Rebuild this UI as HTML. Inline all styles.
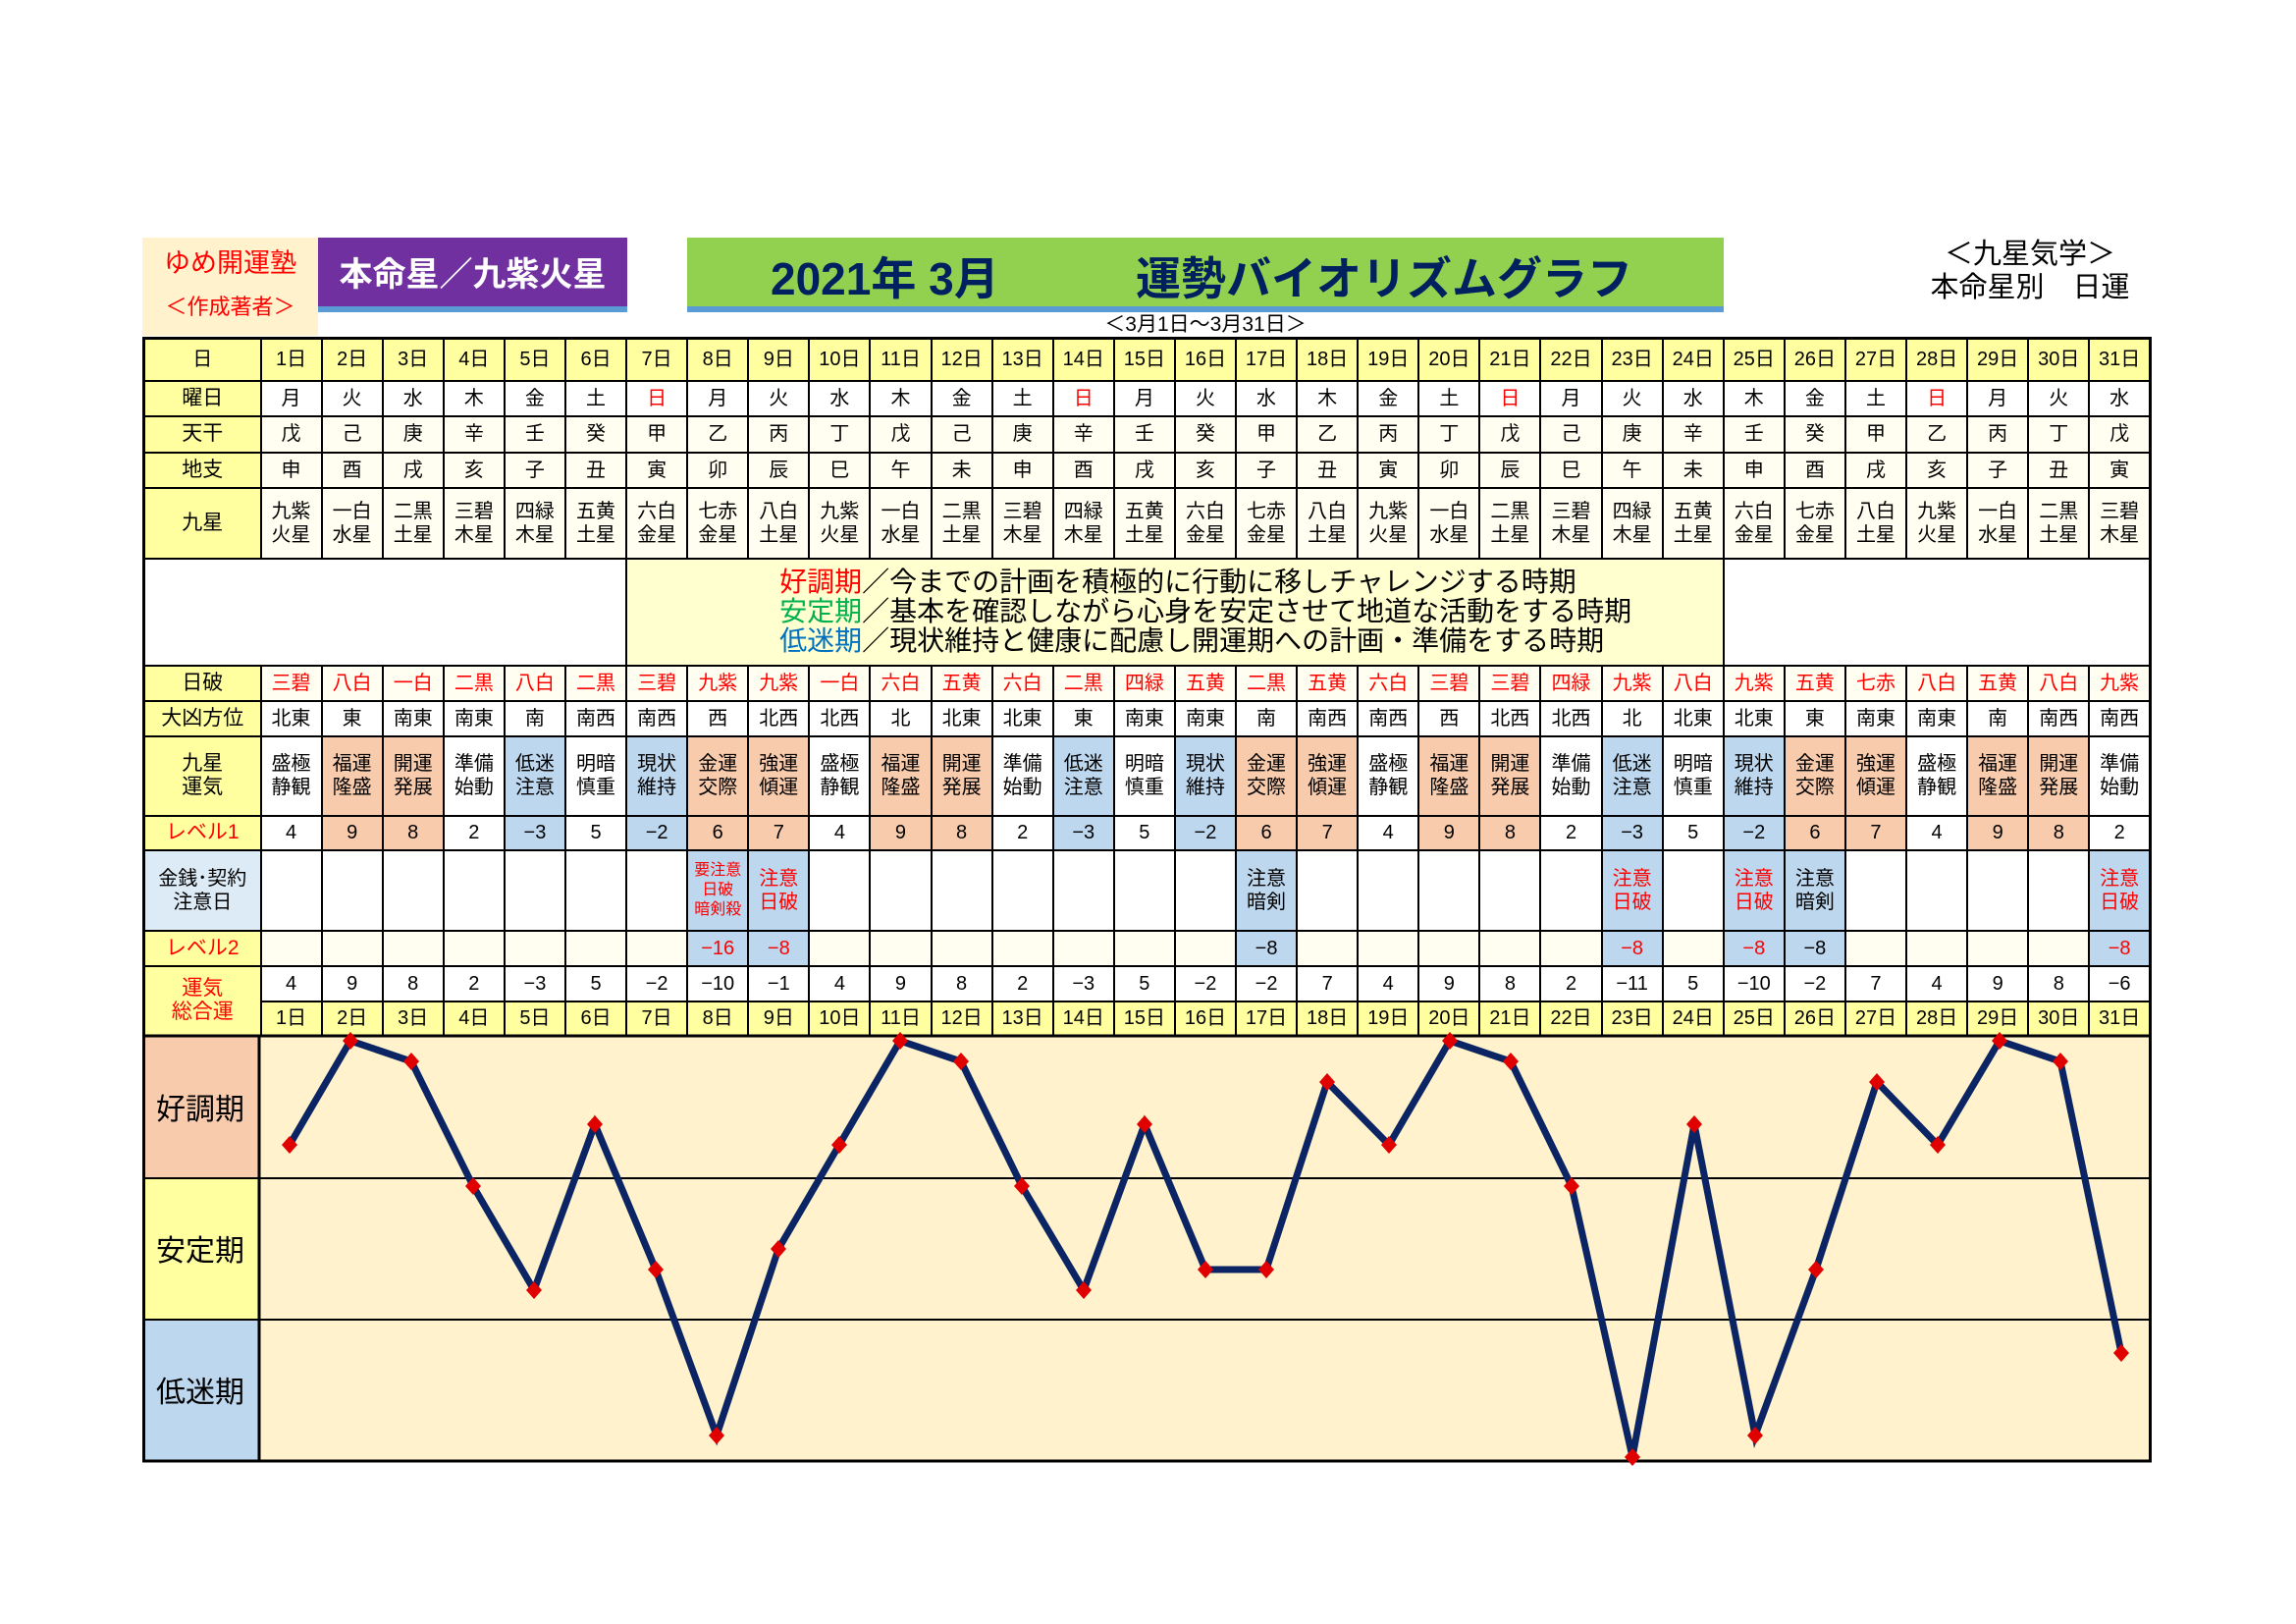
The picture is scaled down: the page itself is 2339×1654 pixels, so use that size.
<!DOCTYPE html>
<html><head><meta charset="utf-8">
<style>
*{margin:0;padding:0;box-sizing:border-box}
body{width:2339px;height:1654px;background:#fff;position:relative;overflow:hidden;font-family:"Liberation Sans","Noto Sans CJK JP",sans-serif;color:#000}
.a{position:absolute}
table{position:absolute;left:145px;top:343px;width:2047px;border-collapse:collapse;table-layout:fixed;border:3px solid #000}
td{border:2px solid #000;text-align:center;vertical-align:middle;font-size:20px;line-height:24px;background:#fffef0;padding:0;overflow:hidden;white-space:nowrap}
td.l{background:#ffffa0;font-size:21px}
tr.y td{background:#ffffa0}
td.w{background:#fff}
td.p{background:#f8cbad}
td.b{background:#bdd7ee}
.r{color:#f00}
td.lr{color:#f00}
</style></head><body>
<div class="a" style="left:145px;top:242px;width:179px;height:100px;background:#fff2cc"></div>
<div class="a" style="left:145px;top:246px;width:179px;text-align:center;font-size:27px;color:#f00">ゆめ開運塾</div>
<div class="a" style="left:145px;top:295px;width:179px;text-align:center;font-size:22px;color:#f00">＜作成著者＞</div>
<div class="a" style="left:324px;top:242px;width:315px;height:70px;background:#7030a0"></div>
<div class="a" style="left:324px;top:312px;width:315px;height:6px;background:#5b9bd5"></div>
<div class="a" style="left:324px;top:252px;width:315px;text-align:center;font-size:34px;font-weight:bold;color:#fff">本命星／九紫火星</div>
<div class="a" style="left:700px;top:242px;width:1056px;height:70px;background:#92d050"></div>
<div class="a" style="left:700px;top:312px;width:1056px;height:6px;background:#5b9bd5"></div>
<div class="a" style="left:785px;top:248px;font-size:46px;font-weight:bold;color:#002060;white-space:nowrap">2021年 3月</div>
<div class="a" style="left:1157px;top:248px;font-size:46px;font-weight:bold;color:#002060;white-space:nowrap">運勢バイオリズムグラフ</div>
<div class="a" style="left:700px;top:314px;width:1056px;text-align:center;font-size:21px">＜3月1日～3月31日＞</div>
<div class="a" style="left:1888px;top:242px;width:360px;text-align:center;font-size:29px;line-height:34px">＜九星気学＞<br>本命星別　日運</div>

<table>
<colgroup><col style="width:119px"><col span="31"></colgroup>
<tr class="y" style="height:43px"><td>日</td><td>1日</td><td>2日</td><td>3日</td><td>4日</td><td>5日</td><td>6日</td><td>7日</td><td>8日</td><td>9日</td><td>10日</td><td>11日</td><td>12日</td><td>13日</td><td>14日</td><td>15日</td><td>16日</td><td>17日</td><td>18日</td><td>19日</td><td>20日</td><td>21日</td><td>22日</td><td>23日</td><td>24日</td><td>25日</td><td>26日</td><td>27日</td><td>28日</td><td>29日</td><td>30日</td><td>31日</td></tr>
<tr style="height:36px"><td class="l">曜日</td><td class="w">月</td><td class="w">火</td><td class="w">水</td><td class="w">木</td><td class="w">金</td><td class="w">土</td><td class="w r">日</td><td class="w">月</td><td class="w">火</td><td class="w">水</td><td class="w">木</td><td class="w">金</td><td class="w">土</td><td class="w r">日</td><td class="w">月</td><td class="w">火</td><td class="w">水</td><td class="w">木</td><td class="w">金</td><td class="w">土</td><td class="w r">日</td><td class="w">月</td><td class="w">火</td><td class="w">水</td><td class="w">木</td><td class="w">金</td><td class="w">土</td><td class="w r">日</td><td class="w">月</td><td class="w">火</td><td class="w">水</td></tr>
<tr style="height:37px"><td class="l">天干</td><td>戊</td><td>己</td><td>庚</td><td>辛</td><td>壬</td><td>癸</td><td>甲</td><td>乙</td><td>丙</td><td>丁</td><td>戊</td><td>己</td><td>庚</td><td>辛</td><td>壬</td><td>癸</td><td>甲</td><td>乙</td><td>丙</td><td>丁</td><td>戊</td><td>己</td><td>庚</td><td>辛</td><td>壬</td><td>癸</td><td>甲</td><td>乙</td><td>丙</td><td>丁</td><td>戊</td></tr>
<tr style="height:36px"><td class="l">地支</td><td>申</td><td>酉</td><td>戌</td><td>亥</td><td>子</td><td>丑</td><td>寅</td><td>卯</td><td>辰</td><td>巳</td><td>午</td><td>未</td><td>申</td><td>酉</td><td>戌</td><td>亥</td><td>子</td><td>丑</td><td>寅</td><td>卯</td><td>辰</td><td>巳</td><td>午</td><td>未</td><td>申</td><td>酉</td><td>戌</td><td>亥</td><td>子</td><td>丑</td><td>寅</td></tr>
<tr style="height:72px"><td class="l">九星</td><td>九紫<br>火星</td><td>一白<br>水星</td><td>二黒<br>土星</td><td>三碧<br>木星</td><td>四緑<br>木星</td><td>五黄<br>土星</td><td>六白<br>金星</td><td>七赤<br>金星</td><td>八白<br>土星</td><td>九紫<br>火星</td><td>一白<br>水星</td><td>二黒<br>土星</td><td>三碧<br>木星</td><td>四緑<br>木星</td><td>五黄<br>土星</td><td>六白<br>金星</td><td>七赤<br>金星</td><td>八白<br>土星</td><td>九紫<br>火星</td><td>一白<br>水星</td><td>二黒<br>土星</td><td>三碧<br>木星</td><td>四緑<br>木星</td><td>五黄<br>土星</td><td>六白<br>金星</td><td>七赤<br>金星</td><td>八白<br>土星</td><td>九紫<br>火星</td><td>一白<br>水星</td><td>二黒<br>土星</td><td>三碧<br>木星</td></tr>
<tr style="height:109px"><td colspan="7" class="w" style="border-right:2px solid #000"></td><td colspan="18" style="background:#ffffd0;text-align:left;padding-left:155px;font-size:28px;line-height:30px"><span class="r">好調期</span>／今までの計画を積極的に行動に移しチャレンジする時期<br><span style="color:#00b050">安定期</span>／基本を確認しながら心身を安定させて地道な活動をする時期<br><span style="color:#0070c0">低迷期</span>／現状維持と健康に配慮し開運期への計画・準備をする時期</td><td colspan="7" class="w"></td></tr>
<tr style="height:36px"><td class="l">日破</td><td class="r">三碧</td><td class="r">八白</td><td class="r">一白</td><td class="r">二黒</td><td class="r">八白</td><td class="r">二黒</td><td class="r">三碧</td><td class="r">九紫</td><td class="r">九紫</td><td class="r">一白</td><td class="r">六白</td><td class="r">五黄</td><td class="r">六白</td><td class="r">二黒</td><td class="r">四緑</td><td class="r">五黄</td><td class="r">二黒</td><td class="r">五黄</td><td class="r">六白</td><td class="r">三碧</td><td class="r">三碧</td><td class="r">四緑</td><td class="r">九紫</td><td class="r">八白</td><td class="r">九紫</td><td class="r">五黄</td><td class="r">七赤</td><td class="r">八白</td><td class="r">五黄</td><td class="r">八白</td><td class="r">九紫</td></tr>
<tr style="height:36px"><td class="l">大凶方位</td><td class="w">北東</td><td class="w">東</td><td class="w">南東</td><td class="w">南東</td><td class="w">南</td><td class="w">南西</td><td class="w">南西</td><td class="w">西</td><td class="w">北西</td><td class="w">北西</td><td class="w">北</td><td class="w">北東</td><td class="w">北東</td><td class="w">東</td><td class="w">南東</td><td class="w">南東</td><td class="w">南</td><td class="w">南西</td><td class="w">南西</td><td class="w">西</td><td class="w">北西</td><td class="w">北西</td><td class="w">北</td><td class="w">北東</td><td class="w">北東</td><td class="w">東</td><td class="w">南東</td><td class="w">南東</td><td class="w">南</td><td class="w">南西</td><td class="w">南西</td></tr>
<tr style="height:81px"><td class="l">九星<br>運気</td><td class="w">盛極<br>静観</td><td class="p">福運<br>隆盛</td><td class="p">開運<br>発展</td><td class="w">準備<br>始動</td><td class="b">低迷<br>注意</td><td class="w">明暗<br>慎重</td><td class="b">現状<br>維持</td><td class="p">金運<br>交際</td><td class="p">強運<br>傾運</td><td class="w">盛極<br>静観</td><td class="p">福運<br>隆盛</td><td class="p">開運<br>発展</td><td class="w">準備<br>始動</td><td class="b">低迷<br>注意</td><td class="w">明暗<br>慎重</td><td class="b">現状<br>維持</td><td class="p">金運<br>交際</td><td class="p">強運<br>傾運</td><td class="w">盛極<br>静観</td><td class="p">福運<br>隆盛</td><td class="p">開運<br>発展</td><td class="w">準備<br>始動</td><td class="b">低迷<br>注意</td><td class="w">明暗<br>慎重</td><td class="b">現状<br>維持</td><td class="p">金運<br>交際</td><td class="p">強運<br>傾運</td><td class="w">盛極<br>静観</td><td class="p">福運<br>隆盛</td><td class="p">開運<br>発展</td><td class="w">準備<br>始動</td></tr>
<tr style="height:35px"><td class="l lr">レベル1</td><td class="w">4</td><td class="p">9</td><td class="p">8</td><td class="w">2</td><td class="b">−3</td><td class="w">5</td><td class="b">−2</td><td class="p">6</td><td class="p">7</td><td class="w">4</td><td class="p">9</td><td class="p">8</td><td class="w">2</td><td class="b">−3</td><td class="w">5</td><td class="b">−2</td><td class="p">6</td><td class="p">7</td><td class="w">4</td><td class="p">9</td><td class="p">8</td><td class="w">2</td><td class="b">−3</td><td class="w">5</td><td class="b">−2</td><td class="p">6</td><td class="p">7</td><td class="w">4</td><td class="p">9</td><td class="p">8</td><td class="w">2</td></tr>
<tr style="height:82px"><td style="background:#ddebf7">金銭･契約<br>注意日</td><td class="w"></td><td class="w"></td><td class="w"></td><td class="w"></td><td class="w"></td><td class="w"></td><td class="w"></td><td class="b r" style="font-size:16px;line-height:20px">要注意<br>日破<br>暗剣殺</td><td class="b r">注意<br>日破</td><td class="w"></td><td class="w"></td><td class="w"></td><td class="w"></td><td class="w"></td><td class="w"></td><td class="w"></td><td class="b">注意<br>暗剣</td><td class="w"></td><td class="w"></td><td class="w"></td><td class="w"></td><td class="w"></td><td class="b r">注意<br>日破</td><td class="w"></td><td class="b r">注意<br>日破</td><td class="b">注意<br>暗剣</td><td class="w"></td><td class="w"></td><td class="w"></td><td class="w"></td><td class="b r">注意<br>日破</td></tr>
<tr style="height:36px"><td class="l lr">レベル2</td><td></td><td></td><td></td><td></td><td></td><td></td><td></td><td class="b r">−16</td><td class="b r">−8</td><td></td><td></td><td></td><td></td><td></td><td></td><td></td><td class="b">−8</td><td></td><td></td><td></td><td></td><td></td><td class="b r">−8</td><td></td><td class="b r">−8</td><td class="b">−8</td><td></td><td></td><td></td><td></td><td class="b r">−8</td></tr>
<tr style="height:36px"><td class="l lr" rowspan="2">運気<br>総合運</td><td class="w">4</td><td class="w">9</td><td class="w">8</td><td class="w">2</td><td class="w">−3</td><td class="w">5</td><td class="w">−2</td><td class="w">−10</td><td class="w">−1</td><td class="w">4</td><td class="w">9</td><td class="w">8</td><td class="w">2</td><td class="w">−3</td><td class="w">5</td><td class="w">−2</td><td class="w">−2</td><td class="w">7</td><td class="w">4</td><td class="w">9</td><td class="w">8</td><td class="w">2</td><td class="w">−11</td><td class="w">5</td><td class="w">−10</td><td class="w">−2</td><td class="w">7</td><td class="w">4</td><td class="w">9</td><td class="w">8</td><td class="w">−6</td></tr>
<tr class="y" style="height:36px"><td>1日</td><td>2日</td><td>3日</td><td>4日</td><td>5日</td><td>6日</td><td>7日</td><td>8日</td><td>9日</td><td>10日</td><td>11日</td><td>12日</td><td>13日</td><td>14日</td><td>15日</td><td>16日</td><td>17日</td><td>18日</td><td>19日</td><td>20日</td><td>21日</td><td>22日</td><td>23日</td><td>24日</td><td>25日</td><td>26日</td><td>27日</td><td>28日</td><td>29日</td><td>30日</td><td>31日</td></tr>
</table>

<svg class="a" style="left:0;top:0" width="2339" height="1654">
<rect x="145" y="1055" width="119" height="145" fill="#f8cbad"/>
<rect x="145" y="1200" width="119" height="144" fill="#ffffa0"/>
<rect x="145" y="1344" width="119" height="144" fill="#bdd7ee"/>
<rect x="264" y="1055" width="1928" height="433" fill="#fff2cc"/>
<line x1="145" y1="1200" x2="2192" y2="1200" stroke="#000" stroke-width="2"/>
<line x1="145" y1="1344" x2="2192" y2="1344" stroke="#000" stroke-width="2"/>
<line x1="264" y1="1055" x2="264" y2="1488" stroke="#000" stroke-width="3"/>
<rect x="146.5" y="1055" width="2044" height="433" fill="none" stroke="#000" stroke-width="3"/>
<text x="204" y="1140" font-size="30" text-anchor="middle" font-family="Liberation Sans, Noto Sans CJK JP, sans-serif">好調期</text>
<text x="204" y="1284" font-size="30" text-anchor="middle" font-family="Liberation Sans, Noto Sans CJK JP, sans-serif">安定期</text>
<text x="204" y="1428" font-size="30" text-anchor="middle" font-family="Liberation Sans, Noto Sans CJK JP, sans-serif">低迷期</text>
<polyline fill="none" stroke="#0b2463" stroke-width="7" stroke-linejoin="miter" points="295,1166 357,1060 419,1081 482,1208 544,1314 606,1145 668,1293 730,1462 793,1272 855,1166 917,1060 979,1081 1041,1208 1104,1314 1166,1145 1228,1293 1290,1293 1352,1102 1415,1166 1477,1060 1539,1081 1601,1208 1663,1484 1726,1145 1788,1462 1850,1293 1912,1102 1974,1166 2037,1060 2099,1081 2161,1378"/>
<g fill="#e00000">
<path d="M295,1157l8,9l-8,9l-8,-9z"/><path d="M357,1051l8,9l-8,9l-8,-9z"/><path d="M419,1072l8,9l-8,9l-8,-9z"/><path d="M482,1199l8,9l-8,9l-8,-9z"/><path d="M544,1305l8,9l-8,9l-8,-9z"/><path d="M606,1136l8,9l-8,9l-8,-9z"/><path d="M668,1284l8,9l-8,9l-8,-9z"/><path d="M730,1453l8,9l-8,9l-8,-9z"/><path d="M793,1263l8,9l-8,9l-8,-9z"/><path d="M855,1157l8,9l-8,9l-8,-9z"/><path d="M917,1051l8,9l-8,9l-8,-9z"/><path d="M979,1072l8,9l-8,9l-8,-9z"/><path d="M1041,1199l8,9l-8,9l-8,-9z"/><path d="M1104,1305l8,9l-8,9l-8,-9z"/><path d="M1166,1136l8,9l-8,9l-8,-9z"/><path d="M1228,1284l8,9l-8,9l-8,-9z"/><path d="M1290,1284l8,9l-8,9l-8,-9z"/><path d="M1352,1093l8,9l-8,9l-8,-9z"/><path d="M1415,1157l8,9l-8,9l-8,-9z"/><path d="M1477,1051l8,9l-8,9l-8,-9z"/><path d="M1539,1072l8,9l-8,9l-8,-9z"/><path d="M1601,1199l8,9l-8,9l-8,-9z"/><path d="M1663,1475l8,9l-8,9l-8,-9z"/><path d="M1726,1136l8,9l-8,9l-8,-9z"/><path d="M1788,1453l8,9l-8,9l-8,-9z"/><path d="M1850,1284l8,9l-8,9l-8,-9z"/><path d="M1912,1093l8,9l-8,9l-8,-9z"/><path d="M1974,1157l8,9l-8,9l-8,-9z"/><path d="M2037,1051l8,9l-8,9l-8,-9z"/><path d="M2099,1072l8,9l-8,9l-8,-9z"/><path d="M2161,1369l8,9l-8,9l-8,-9z"/>
</g>
</svg>
</body></html>
